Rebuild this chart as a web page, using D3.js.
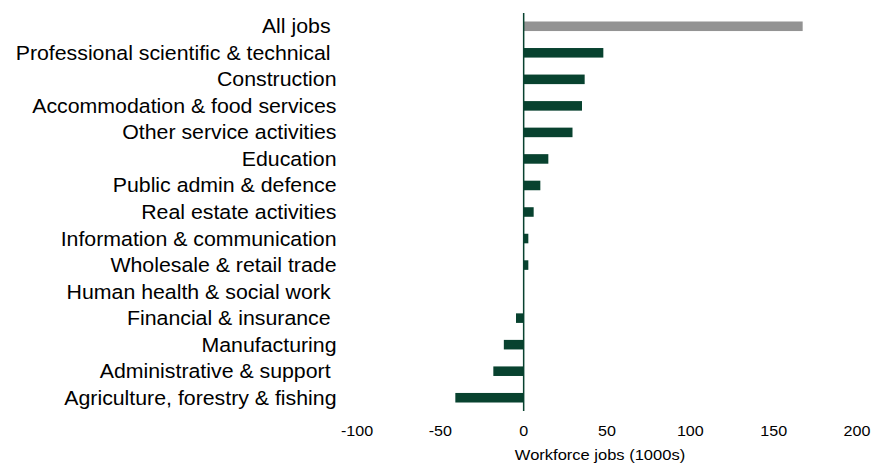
<!DOCTYPE html>
<html><head><meta charset="utf-8">
<script src="https://cdn.jsdelivr.net/npm/d3@7"></script>
<style>body{margin:0;background:#fff}text{font-family:"Liberation Sans",Arial,sans-serif;white-space:pre}</style>
</head><body><svg id="c" width="881" height="463"></svg>
<script>
const categories = ["All jobs ","Professional scientific & technical ","Construction","Accommodation & food services","Other service activities","Education","Public admin & defence","Real estate activities","Information & communication","Wholesale & retail trade","Human health & social work ","Financial & insurance ","Manufacturing","Administrative & support ","Agriculture, forestry & fishing"];
const values = [167.4,47.8,36.6,35.0,29.3,14.8,10.0,6.0,2.8,2.8,0,-4.6,-11.9,-18.2,-41];
const tickValues = [-100,-50,0,50,100,150,200];
const xTitle = "Workforce jobs (1000s)";

const svg = d3.select("#c");
const x = d3.scaleLinear().domain([-100,200]).range([357,857]);
const y = d3.scaleBand().domain(categories).range([13,411]).paddingInner(0.64).paddingOuter(0.32);

svg.selectAll("rect.bar").data(categories).join("rect")
  .attr("class","bar")
  .attr("x",(d,i)=>x(Math.min(0,values[i])))
  .attr("width",(d,i)=>Math.abs(x(values[i])-x(0)))
  .attr("y",d=>y(d)).attr("height",y.bandwidth())
  .attr("fill",(d,i)=>i===0?"#939393":"#08422f");

svg.append("line").attr("x1",x(0)).attr("x2",x(0)).attr("y1",13).attr("y2",411)
  .attr("stroke","#08422f").attr("stroke-width",1.5);

svg.selectAll("text.cat").data(categories).join("text")
  .attr("class","cat")
  .attr("transform",d=>`translate(336.5,${y(d)+y.bandwidth()/2+7}) scale(1.05,1)`)
  .attr("text-anchor","end").attr("font-size",20.3).attr("fill","#000").text(d=>d);

const ax = svg.append("g").attr("transform","translate(0,426)")
  .call(d3.axisBottom(x).tickValues(tickValues).tickFormat(d=>String(d)).tickSize(0).tickPadding(0));
ax.select(".domain").remove();
ax.selectAll("text").attr("font-size",14).attr("fill","#000").attr("y",0).attr("dy","0.71em")
  .attr("transform","scale(1.15,1)")
  .style("font-family","Liberation Sans, Arial, sans-serif");
ax.selectAll(".tick").each(function(d){
  d3.select(this).attr("transform",`translate(${x(d)},0)`);
});

svg.append("text").attr("transform","translate(600,460) scale(1.18,1)").attr("text-anchor","middle")
  .attr("font-size",14).attr("fill","#000").text(xTitle);
</script></body></html>
